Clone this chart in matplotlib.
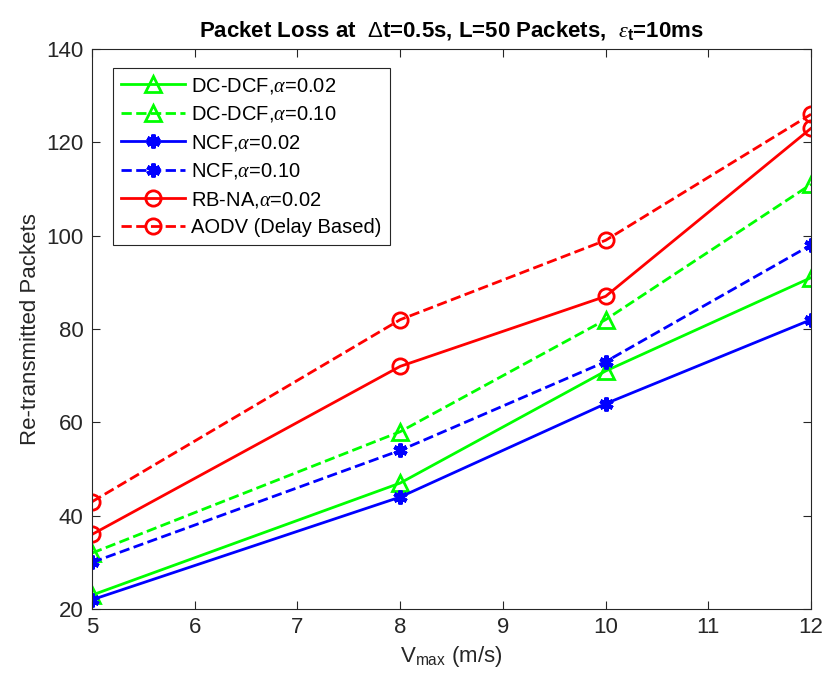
import matplotlib
matplotlib.use('Agg')
import matplotlib.pyplot as plt

plt.rcParams['font.family'] = ['Liberation Sans', 'DejaVu Sans']
plt.rcParams['mathtext.fontset'] = 'custom'
plt.rcParams['mathtext.rm'] = 'Liberation Sans'
plt.rcParams['mathtext.it'] = 'Liberation Serif:italic'
plt.rcParams['mathtext.bf'] = 'Liberation Sans:bold'

vmax = [5, 8, 10, 12]
dcdcf_002 = [23, 47, 71, 91]
dcdcf_010 = [32, 58, 82, 111]
ncf_002 = [22, 44, 64, 82]
ncf_010 = [30, 54, 73, 98]
rbna_002 = [36, 72, 87, 123]
aodv = [43, 82, 99, 126]

fig = plt.figure(figsize=(8.22, 6.89), dpi=100)
ax = fig.add_axes([0.112, 0.116, 0.8747, 0.813])

green = '#00ff00'
blue = '#0000ff'
red = '#ff0000'
ast = (6, 2, 0)
lw = 2.0

ax.plot(vmax, dcdcf_002, '-', color=green, lw=lw, marker='^', ms=12, mfc='none', mew=2, label=r'DC-DCF,$\alpha$=0.02')
ax.plot(vmax, dcdcf_010, '--', color=green, lw=lw, marker='^', ms=12, mfc='none', mew=2, label=r'DC-DCF,$\alpha$=0.10')
ax.plot(vmax, ncf_002, '-', color=blue, lw=lw, marker=ast, ms=10, mew=3, label=r'NCF,$\alpha$=0.02')
ax.plot(vmax, ncf_010, '--', color=blue, lw=lw, marker=ast, ms=10, mew=3, label=r'NCF,$\alpha$=0.10')
ax.plot(vmax, rbna_002, '-', color=red, lw=lw, marker='o', ms=11, mfc='none', mew=2, label=r'RB-NA,$\alpha$=0.02')
ax.plot(vmax, aodv, '--', color=red, lw=lw, marker='o', ms=11, mfc='none', mew=2, label='AODV (Delay Based)')

ax.set_xlim(5, 12)
ax.set_ylim(20, 140)
ax.set_xticks(range(5, 13))
ax.set_yticks(range(20, 141, 20))
ax.tick_params(direction='in', labelsize=16, top=True, right=True, length=6, width=0.8,
               colors='#262626', pad=6)
for s in ax.spines.values():
    s.set_color('#262626')
    s.set_linewidth(0.8)

ax.set_xlabel(r'V$_{\mathrm{max}}$ (m/s)', fontsize=16, color='#262626', labelpad=4)
ax.set_ylabel('Re-transmitted Packets', fontsize=16, color='#262626')
ax.set_title(r'Packet Loss at  $\Delta$t=0.5s, L=50 Packets,  $\epsilon_\mathbf{t}$=10ms',
             fontsize=16, fontweight='bold', pad=9)

leg = ax.legend(loc='upper left', bbox_to_anchor=(0.029, 0.966), fontsize=14.5, fancybox=False,
                edgecolor='#262626', framealpha=1, handlelength=3.2, borderpad=0.4,
                labelspacing=0.42, handletextpad=0.3, borderaxespad=0)
leg.get_frame().set_linewidth(0.8)

fig.savefig('out.png', dpi=100)
